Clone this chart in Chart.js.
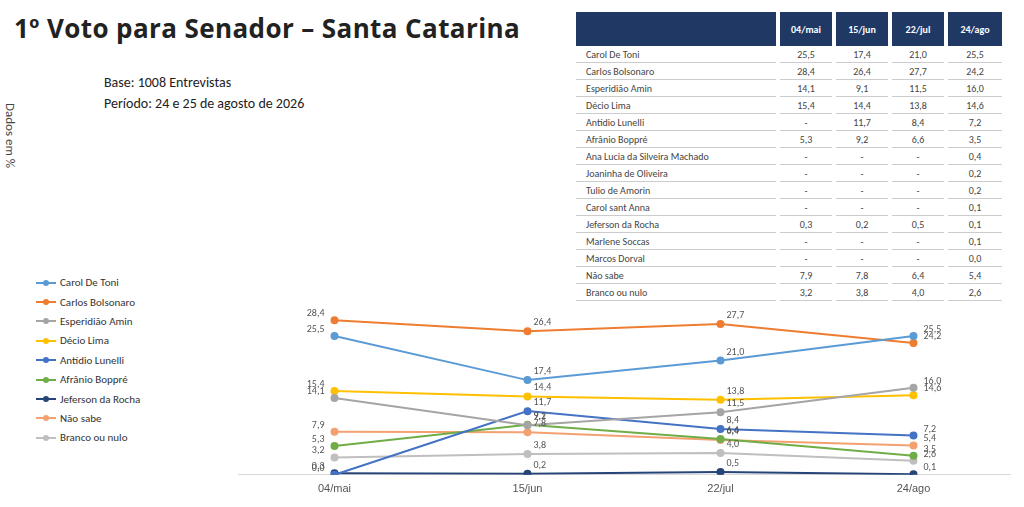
<!DOCTYPE html>
<html><head><meta charset="utf-8">
<script src="https://cdn.jsdelivr.net/npm/chart.js@4"></script>
<style>
body{margin:0;width:1024px;height:507px;background:#fff;font-family:Calibri,"Liberation Sans",Arial,sans-serif;position:relative;overflow:hidden}
h1{position:absolute;left:14px;top:10px;margin:0;font:bold 26px "Open Sans",sans-serif;color:#222;letter-spacing:0.4px}
.base{position:absolute;left:104px;top:72px;font-size:14px;color:#222;line-height:21px}
.side{position:absolute;left:-22px;top:128px;transform:rotate(90deg);font-size:13px;color:#444}
table{position:absolute;left:576px;top:12px;border-collapse:collapse;font-size:10px;color:#444;table-layout:fixed;width:426px}
th{background:#1f3864;color:#fff;height:34px;padding:0;font-size:10px;border-left:4px solid #fff}
td{height:16px;padding:0;line-height:15px;border-bottom:1px solid #ccc;text-align:center;border-left:4px solid #fff}
td:first-child{text-align:left;padding-left:10px;border-left:none}
#legend{position:absolute;left:36px;top:273px;font-size:11px;color:#333}
#legend div{height:19.4px;display:flex;align-items:center}
#legend span{display:inline-block;width:20px;height:2px;margin-right:4px;position:relative}
#legend span:after{content:"";position:absolute;left:7px;top:-2px;width:6px;height:6px;border-radius:50%;background:inherit}
#wrap{position:absolute;left:232px;top:262px;width:784px;height:242px}
</style></head><body>
<h1>1º Voto para Senador – Santa Catarina</h1>
<div class="base">Base: 1008 Entrevistas<br>Período: 24 e 25 de agosto de 2026</div>
<div class="side">Dados em %</div>
<table id="tbl"></table>
<div id="legend"></div>
<div id="wrap"><canvas id="c"></canvas></div>
<script>
const periods = ['04/mai', '15/jun', '22/jul', '24/ago'];
const tableRows = [
	['Carol De Toni', '25,5', '17,4', '21,0', '25,5'],
	['Carlos Bolsonaro', '28,4', '26,4', '27,7', '24,2'],
	['Esperidião Amin', '14,1', '9,1', '11,5', '16,0'],
	['Décio Lima', '15,4', '14,4', '13,8', '14,6'],
	['Antídio Lunelli', '-', '11,7', '8,4', '7,2'],
	['Afrânio Boppré', '5,3', '9,2', '6,6', '3,5'],
	['Ana Lucia da Silveira Machado', '-', '-', '-', '0,4'],
	['Joaninha de Oliveira', '-', '-', '-', '0,2'],
	['Tulio de Amorin', '-', '-', '-', '0,2'],
	['Carol sant Anna', '-', '-', '-', '0,1'],
	['Jeferson da Rocha', '0,3', '0,2', '0,5', '0,1'],
	['Marlene Soccas', '-', '-', '-', '0,1'],
	['Marcos Dorval', '-', '-', '-', '0,0'],
	['Não sabe', '7,9', '7,8', '6,4', '5,4'],
	['Branco ou nulo', '3,2', '3,8', '4,0', '2,6'],
];
const names = ['Carol De Toni', 'Carlos Bolsonaro', 'Esperidião Amin', 'Décio Lima', 'Antídio Lunelli', 'Afrânio Boppré', 'Jeferson da Rocha', 'Não sabe', 'Branco ou nulo'];
const colors = ['#5b9bd5', '#ed7d31', '#a5a5a5', '#ffc000', '#4472c4', '#70ad47', '#264478', '#f4a070', '#bfbfbf'];
const carol = [25.5, 17.4, 21.0, 25.5];
const carlos = [28.4, 26.4, 27.7, 24.2];
const amin = [14.1, 9.1, 11.5, 16.0];
const decio = [15.4, 14.4, 13.8, 14.6];
const antidio = [0, 11.7, 8.4, 7.2];
const afranio = [5.3, 9.2, 6.6, 3.5];
const jeferson = [0.3, 0.2, 0.5, 0.1];
const naoSabe = [7.9, 7.8, 6.4, 5.4];
const branco = [3.2, 3.8, 4.0, 2.6];
const series = [carol, carlos, amin, decio, antidio, afranio, jeferson, naoSabe, branco];

let html = '<tr><th style="width:200px;border-left:none"></th>' + periods.map(p => `<th>${p}</th>`).join('') + '</tr>';
for (const r of tableRows) html += '<tr>' + r.map(c => `<td>${c}</td>`).join('') + '</tr>';
document.getElementById('tbl').innerHTML = html;
document.getElementById('legend').innerHTML = names.map((n, i) => `<div><span style="background:${colors[i]}"></span>${n}</div>`).join('');

const labelPlugin = {
	id: 'labels',
	afterDatasetsDraw(chart) {
		const ctx = chart.ctx;
		ctx.save();
		ctx.font = '10px Calibri, "Liberation Sans", sans-serif';
		ctx.fillStyle = '#555';
		chart.data.datasets.forEach((ds, i) => {
			chart.getDatasetMeta(i).data.forEach((pt, j) => {
				const v = ds.data[j].toFixed(1).replace('.', ',');
				if (j === 0) { ctx.textAlign = 'right'; ctx.fillText(v, pt.x - 10, pt.y - 4); }
				else if (j === 3) { ctx.textAlign = 'left'; ctx.fillText(v, pt.x + 10, pt.y - 4); }
				else { ctx.textAlign = 'left'; ctx.fillText(v, pt.x + 6, pt.y - 6); }
			});
		});
		ctx.restore();
	},
};

new Chart(document.getElementById('c'), {
	type: 'line',
	data: {
		labels: periods,
		datasets: series.map((d, i) => ({
			label: names[i], data: d, borderColor: colors[i], backgroundColor: colors[i],
			borderWidth: 2, pointRadius: 3, tension: 0,
		})),
	},
	options: {
		responsive: true, maintainAspectRatio: false, animation: false,
		layout: { padding: { left: 0, right: 0, top: 0 } },
		plugins: { legend: { display: false }, tooltip: { enabled: false } },
		scales: {
			x: { offset: true, grid: { display: false, drawTicks: false }, border: { color: '#d9d9d9' },
				ticks: { color: '#555', font: { size: 11 }, padding: 8 } },
			y: { display: false, min: 0, max: 38 },
		},
	},
	plugins: [labelPlugin],
});
</script>
</body></html>
